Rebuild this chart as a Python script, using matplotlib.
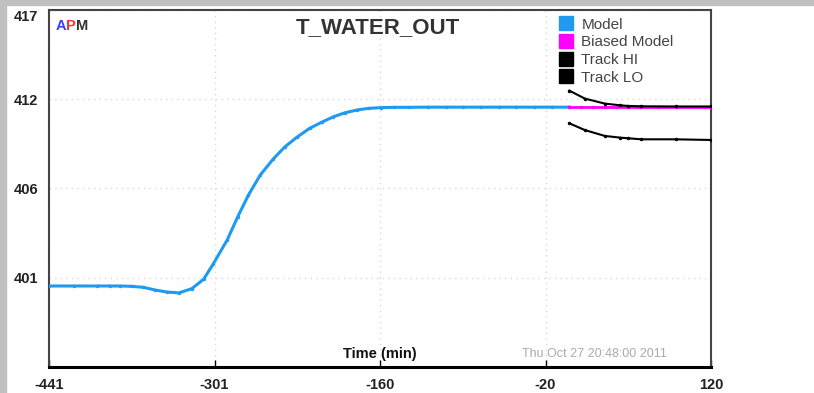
#!/usr/bin/env python3
"""APM trend view of T_WATER_OUT: model, biased model and the HI/LO tracking limits."""

import matplotlib

matplotlib.use("Agg")
import matplotlib.pyplot as plt
from matplotlib.lines import Line2D
from matplotlib.patches import Rectangle

plt.rcParams["font.family"] = ["Liberation Sans", "DejaVu Sans"]

# values
model_t = [-441, -420, -400, -389, -381, -371, -361, -351, -341, -331, -320, -310,
           -302, -290, -281, -272, -262, -251, -241, -231, -220, -210, -200, -190,
           -180, -170, -160, -149, -136, -120, -105, -90, -75, -60, -45, -30, -15, 0]
model_y = [400.61, 400.61, 400.61, 400.61, 400.61, 400.59, 400.53, 400.37, 400.25,
           400.20, 400.45, 401.01, 401.90, 403.34, 404.73, 406.01, 407.20, 408.15,
           408.88, 409.44, 409.98, 410.33, 410.66, 410.90, 411.06, 411.16, 411.20,
           411.22, 411.22, 411.23, 411.23, 411.23, 411.23, 411.23, 411.23, 411.23,
           411.23, 411.23]
biased_t = [0, 10, 20, 30, 40, 50, 60, 75, 90, 120]
biased_y = [411.21, 411.21, 411.21, 411.21, 411.21, 411.21, 411.21, 411.21, 411.21, 411.21]
hi_t = [0, 13, 30, 43, 50, 61, 90, 120]
hi_y = [412.21, 411.74, 411.44, 411.34, 411.30, 411.28, 411.27, 411.27]
lo_t = [0, 13, 30, 43, 50, 61, 90, 120]
lo_y = [410.27, 409.87, 409.52, 409.42, 409.38, 409.32, 409.32, 409.28]

x_ticks = [-441, -300.75, -160.5, -20.25, 120]
x_labels = ["-441", "-301", "-160", "-20", "120"]
y_ticks = [417, 411.7, 406.4, 401.1, 395.8]
y_labels = ["417", "412", "406", "401", ""]

BLUE = "#1e9bf0"
MAGENTA = "#ff00ff"

fig = plt.figure(figsize=(8.14, 3.93), dpi=100)
fig.patches.append(Rectangle((0, 0.988), 1, 0.012, transform=fig.transFigure,
                             color="#c0c0c0", zorder=0))
fig.patches.append(Rectangle((0, 0), 0.0074, 1, transform=fig.transFigure,
                             color="#c0c0c0", zorder=0))

ax = fig.add_axes([0.0602, 0.0662, 0.8133, 0.9084])
ax.set_xlim(-441, 120)
ax.set_ylim(395.8, 417)

ax.plot(model_t, model_y, color=BLUE, lw=2.2, marker=".", ms=3, zorder=3,
        solid_joinstyle="round")
ax.plot(biased_t, biased_y, color=MAGENTA, lw=2.0, marker=".", ms=3, zorder=3)
ax.plot(hi_t, hi_y, color="black", lw=1.5, marker=".", ms=3, zorder=4,
        solid_joinstyle="round")
ax.plot(lo_t, lo_y, color="black", lw=1.5, marker=".", ms=3, zorder=4,
        solid_joinstyle="round")

ax.set_xticks(x_ticks)
ax.set_xticklabels(x_labels)
ax.set_yticks(y_ticks)
ax.set_yticklabels(y_labels)
ax.grid(True, color="#d8d8d8", linestyle=(0, (1, 3)), lw=1.0)
ax.tick_params(axis="x", direction="in", length=5, width=1, pad=8, labelsize=10.5,
               colors="black", labelcolor="#222222")
ax.tick_params(axis="y", length=0, pad=8, labelsize=10.5, labelcolor="#222222")
for lab in ax.get_xticklabels() + ax.get_yticklabels():
    lab.set_fontweight("bold")
ax.get_yticklabels()[0].set_va("top")

for side in ("left", "top", "right"):
    ax.spines[side].set_color("#444444")
    ax.spines[side].set_linewidth(1.5)
ax.spines["bottom"].set_color("black")
ax.spines["bottom"].set_linewidth(2.2)

ax.text(0.497, 0.95, "T_WATER_OUT", transform=ax.transAxes, ha="center", va="center",
        fontsize=16, fontweight="bold", color="#333333")
ax.text(0.5, 0.035, "Time (min)", transform=ax.transAxes, ha="center", va="center",
        fontsize=10.5, fontweight="bold", color="#111111")
ax.text(0.715, 0.035, "Thu Oct 27 20:48:00 2011", transform=ax.transAxes, ha="left",
        va="center", fontsize=9, color="#aaaaaa")

# APM logo, one letter after the other
prev = ax.text(0.01, 0.955, "A", transform=ax.transAxes, ha="left", va="center",
               fontsize=10.5, fontweight="bold", color="#3c3cff")
for letter, col in (("P", "#ff3030"), ("M", "#333333")):
    prev = ax.annotate(letter, xy=(1, 0), xycoords=prev, ha="left", va="bottom",
                       fontsize=10.5, fontweight="bold", color=col)

handles = [Line2D([], [], ls="", marker="s", ms=9.5, color=c)
           for c in (BLUE, MAGENTA, "black", "black")]
leg = ax.legend(handles, ["Model", "Biased Model", "Track HI", "Track LO"],
                loc="upper left", bbox_to_anchor=(0.758, 1.0), frameon=False,
                borderpad=0, handlelength=1.0, handletextpad=0.5, labelspacing=0.24,
                prop={"size": 11})
for txt in leg.get_texts():
    txt.set_color("#444444")

fig.savefig("out.png", dpi=100)
